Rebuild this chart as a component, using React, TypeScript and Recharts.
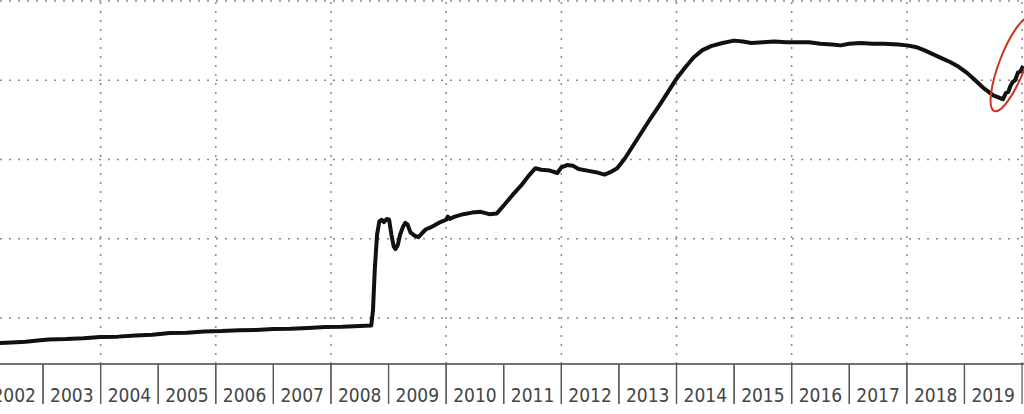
import { LineChart, Line, XAxis, YAxis, ReferenceLine, ReferenceDot } from 'recharts'

// Fed balance sheet, trillions USD
const dates = [
  2002.25, 2002.45, 2002.7, 2002.95, 2003.1, 2003.4, 2003.7, 2004.0, 2004.3, 2004.6,
  2004.9, 2005.2, 2005.5, 2005.8, 2006.1, 2006.4, 2006.7, 2007.0, 2007.3, 2007.6,
  2007.9, 2008.2, 2008.5, 2008.7, 2008.73, 2008.76, 2008.8, 2008.84, 2008.88, 2008.92,
  2008.97, 2009.01, 2009.05, 2009.09, 2009.12, 2009.16, 2009.2, 2009.25, 2009.29, 2009.33,
  2009.38, 2009.45, 2009.52, 2009.58, 2009.65, 2009.72, 2009.8, 2009.9, 2010.0, 2010.03,
  2010.06, 2010.15, 2010.3, 2010.45, 2010.6, 2010.75, 2010.88, 2011.0, 2011.15, 2011.3,
  2011.45, 2011.55, 2011.65, 2011.8, 2011.93, 2012.0, 2012.1, 2012.2, 2012.3, 2012.45,
  2012.6, 2012.75, 2012.85, 2012.97, 2013.1, 2013.25, 2013.4, 2013.55, 2013.7, 2013.85,
  2014.0, 2014.15, 2014.3, 2014.45, 2014.6, 2014.8, 2015.0, 2015.15, 2015.3, 2015.5,
  2015.7, 2015.9, 2016.1, 2016.3, 2016.5, 2016.7, 2016.85, 2017.0, 2017.2, 2017.4,
  2017.6, 2017.85, 2018.0, 2018.15, 2018.3, 2018.45, 2018.6, 2018.75, 2018.9, 2019.05,
  2019.2, 2019.35, 2019.5, 2019.6, 2019.67, 2019.72, 2019.76, 2019.8, 2019.84, 2019.88,
  2019.93, 2019.97, 2020.02,
]
const assets = [
  0.685, 0.69, 0.7, 0.72, 0.73, 0.735, 0.745, 0.76, 0.765, 0.78,
  0.79, 0.81, 0.815, 0.83, 0.835, 0.845, 0.85, 0.86, 0.865, 0.875,
  0.885, 0.89, 0.9, 0.905, 1.1, 1.6, 2.05, 2.22, 2.24, 2.21,
  2.25, 2.24, 2.05, 1.9, 1.87, 1.92, 2.05, 2.15, 2.2, 2.18,
  2.08, 2.04, 2.02, 2.07, 2.12, 2.14, 2.17, 2.21, 2.24, 2.28,
  2.25, 2.28, 2.31, 2.33, 2.34, 2.31, 2.32, 2.42, 2.55, 2.67,
  2.81, 2.89, 2.87, 2.86, 2.83, 2.9, 2.93, 2.92, 2.88, 2.86,
  2.84, 2.81, 2.84, 2.89, 3.01, 3.18, 3.35, 3.52, 3.68, 3.85,
  4.02, 4.16, 4.29, 4.38, 4.43, 4.47, 4.5, 4.49, 4.47, 4.48,
  4.49, 4.48, 4.48, 4.48, 4.46, 4.45, 4.44, 4.46, 4.47, 4.46,
  4.46, 4.45, 4.44, 4.42, 4.38, 4.33, 4.28, 4.23, 4.17, 4.09,
  3.99, 3.89, 3.81, 3.78, 3.76, 3.84, 3.85, 3.93, 3.98, 4.0,
  4.1, 4.11, 4.18,
]
const yearLabels = [2002, 2003, 2004, 2005, 2006, 2007, 2008, 2009, 2010, 2011, 2012, 2013, 2014, 2015, 2016, 2017, 2018, 2019]
const gridYears = [2004, 2006, 2008, 2010, 2012, 2014, 2016, 2018, 2020]
const gridLevels = [1, 2, 3, 4, 5]

const data = dates.map((d, i) => ({ date: d, assets: assets[i] }))
const labelTicks = yearLabels.map(y => y + 0.5)

const W = 1024
const H = 414
const X_MIN = 2002.253
const X_MAX = 2020.034
const HALF_YEAR = W / (X_MAX - X_MIN) / 2

const gridProps = { stroke: '#8a8a8a', strokeWidth: 1.5, strokeDasharray: '2 7' }

function YearTick({ x, y, payload }: { x?: number; y?: number; payload?: { value: number } }) {
  if (x == null || y == null || !payload) return null
  return (
    <g>
      <line x1={x - HALF_YEAR} y1={y} x2={x - HALF_YEAR} y2={y + 40} stroke="#555" strokeWidth={1.2} />
      <line x1={x + HALF_YEAR} y1={y} x2={x + HALF_YEAR} y2={y + 40} stroke="#555" strokeWidth={1.2} />
      <text
        x={x} y={y + 38} textAnchor="middle" fill="#444"
        fontFamily="'Liberation Sans Narrow', 'DejaVu Sans Condensed', sans-serif" fontSize={19}
      >
        {Math.floor(payload.value)}
      </text>
    </g>
  )
}

function Circled({ cx, cy }: { cx?: number; cy?: number }) {
  if (cx == null || cy == null) return <g />
  return (
    <ellipse
      cx={cx} cy={cy} rx={13} ry={50}
      transform={`rotate(21 ${cx} ${cy})`}
      fill="none" stroke="#cc3322" strokeWidth={2}
    />
  )
}

export default function App() {
  return (
    <div style={{ position: 'absolute', left: 0, top: 0, background: '#fff' }}>
      <LineChart width={W} height={H} data={data} margin={{ top: 0, right: 0, bottom: 0, left: 0 }}>
        <XAxis
          dataKey="date" type="number" domain={[X_MIN, X_MAX]} allowDataOverflow
          ticks={labelTicks} interval={0} tickLine={false} tickSize={0} tickMargin={0}
          height={50} axisLine={{ stroke: '#444', strokeWidth: 1.5 }}
          tick={<YearTick />}
        />
        <YAxis hide type="number" domain={[0.4196, 5.0126]} allowDataOverflow />
        {gridLevels.map(v => <ReferenceLine key={'h' + v} y={v} {...gridProps} />)}
        {gridYears.map(v => <ReferenceLine key={'v' + v} x={v} {...gridProps} />)}
        <Line
          type="linear" dataKey="assets" stroke="#111" strokeWidth={4}
          strokeLinejoin="round" dot={false} isAnimationActive={false}
        />
        <ReferenceDot x={2019.83} y={4.2} ifOverflow="visible" shape={<Circled />} />
      </LineChart>
    </div>
  )
}
